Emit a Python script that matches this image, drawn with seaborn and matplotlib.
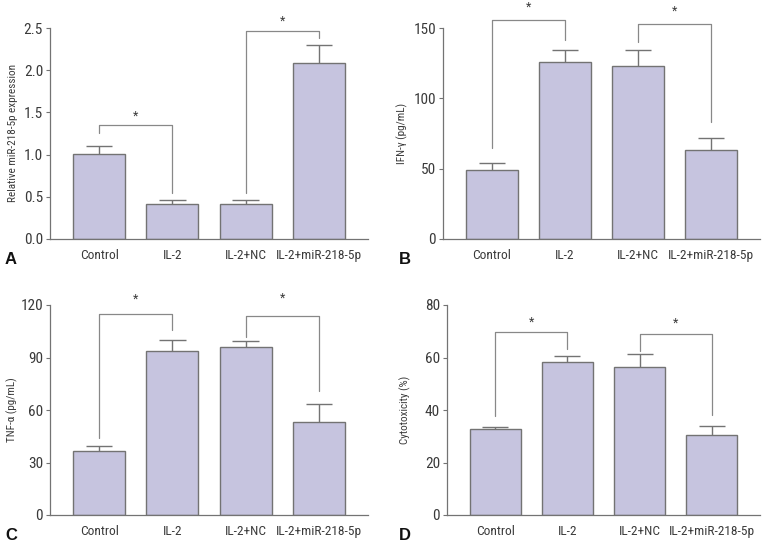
import numpy as np
import pandas as pd
import matplotlib
matplotlib.use("Agg")
import matplotlib.pyplot as plt
from matplotlib import font_manager
import seaborn as sns

groups = ["Control", "IL-2", "IL-2+NC", "IL-2+miR-218-5p"]

# panel A - relative miR-218-5p expression
mir_mean = [1.01, 0.42, 0.42, 2.08]
mir_err = [0.09, 0.04, 0.04, 0.22]
# panel B - IFN-gamma
ifn_mean = [49.1, 126.1, 123.1, 63.5]
ifn_err = [5.2, 8.5, 11.5, 8.3]
# panel C - TNF-alpha
tnf_mean = [36.3, 94.0, 96.0, 53.3]
tnf_err = [2.9, 6.2, 3.5, 10.0]
# panel D - cytotoxicity
cyt_mean = [32.7, 58.4, 56.2, 30.4]
cyt_err = [0.8, 2.3, 5.0, 3.4]

# significance brackets: (left bar, right bar, left leg start, top, right leg end, star y)
mir_sig = [(0, 1, 1.26, 1.35, 0.545, 1.45), (2, 3, 0.545, 2.47, 2.38, 2.58)]
ifn_sig = [(0, 1, 64.5, 156, 141.7, 165), (2, 3, 140, 152.6, 83.4, 162)]
tnf_sig = [(0, 1, 44.0, 114.9, 106, 123.6), (2, 3, 101.6, 113.9, 70.6, 124)]
cyt_sig = [(0, 1, 37.7, 69.7, 63.3, 73.5), (2, 3, 62.4, 69.1, 38, 73)]

panels = [
    ("A", mir_mean, mir_err, mir_sig, "Relative miR-218-5p expression", [0, 0.5, 1.0, 1.5, 2.0, 2.5], "%.1f"),
    ("B", ifn_mean, ifn_err, ifn_sig, "IFN-γ (pg/mL)", [0, 50, 100, 150], "%d"),
    ("C", tnf_mean, tnf_err, tnf_sig, "TNF-α (pg/mL)", [0, 30, 60, 90, 120], "%d"),
    ("D", cyt_mean, cyt_err, cyt_sig, "Cytotoxicity (%)", [0, 20, 40, 60, 80], "%d"),
]

sns.set_style("white")

# the original uses a narrow typeface; use one if present, otherwise shrink Roboto
installed = {f.name for f in font_manager.fontManager.ttflist}
narrow = [n for n in ["Roboto Condensed", "Liberation Sans Narrow", "Open Sans Condensed",
                      "DejaVu Sans Condensed"] if n in installed]
if narrow:
    plt.rcParams['font.family'] = [narrow[0], 'DejaVu Sans']
    tick_fs, cat_fs, lab_fs = 11, 9.6, 8
else:
    plt.rcParams['font.family'] = ['Roboto', 'DejaVu Sans']
    tick_fs, cat_fs, lab_fs = 10, 8.6, 7.2

bar_color = "#c6c4df"
edge = "#737373"
txt = "#3a3a3a"

W, H = 763, 544
fig = plt.figure(figsize=(W / 100, H / 100), dpi=100)
# axes boxes in pixels: left, top, right, bottom
px_boxes = [(50, 28, 368, 239), (443, 28, 760, 239), (50, 305, 368, 515), (447, 305, 760, 515)]
letter_pos = [(5, 259), (399, 259), (5, 535), (399, 535)]
ylab_x = [18, 408, 18, 411]

for k, (letter, mean, err, sig, ylabel, yticks, fmt) in enumerate(panels):
    l, t, r, b = px_boxes[k]
    ax = fig.add_axes([l / W, 1 - b / H, (r - l) / W, (b - t) / H])
    df = pd.DataFrame({"group": groups, "value": mean})
    sns.barplot(data=df, x="group", y="value", color=bar_color, width=0.71,
                edgecolor=edge, linewidth=1.0, saturation=1, ax=ax)
    x = np.arange(len(groups))
    top = np.array(mean) + np.array(err)
    ax.vlines(x, mean, top, color=edge, lw=1.0)
    ax.hlines(top, x - 0.18, x + 0.18, color=edge, lw=1.0)

    for i, j, ls, tp, re, sy in sig:
        ax.plot([i, i, j, j], [ls, tp, tp, re], color="#888888", lw=0.9, clip_on=False)
        ax.text((i + j) / 2, sy, "*", ha="center", va="center", fontsize=9, color=txt)

    ax.set_xlim(-0.67, 3.67)
    ax.set_ylim(0, yticks[-1])
    ax.set_yticks(yticks)
    ax.set_yticklabels([fmt % v for v in yticks])
    ax.set_xlabel("")
    ax.set_ylabel(ylabel, fontsize=lab_fs, color=txt)
    ax.yaxis.set_label_coords((ylab_x[k] - l) / (r - l), 0.5)
    ax.tick_params(axis="y", left=True, length=3, width=0.8, color=edge, labelsize=tick_fs,
                   labelcolor=txt, pad=2)
    ax.tick_params(axis="x", bottom=False, labelsize=cat_fs, labelcolor=txt, pad=4)
    sns.despine(ax=ax)
    for s in ["left", "bottom"]:
        ax.spines[s].set_color(edge)
        ax.spines[s].set_linewidth(0.9)
    fig.text(letter_pos[k][0] / W, 1 - letter_pos[k][1] / H, letter, fontsize=12, fontweight="bold",
             color="#111111", ha="left", va="center", family=["Liberation Sans", "DejaVu Sans"])

fig.savefig("out.png", dpi=100)
